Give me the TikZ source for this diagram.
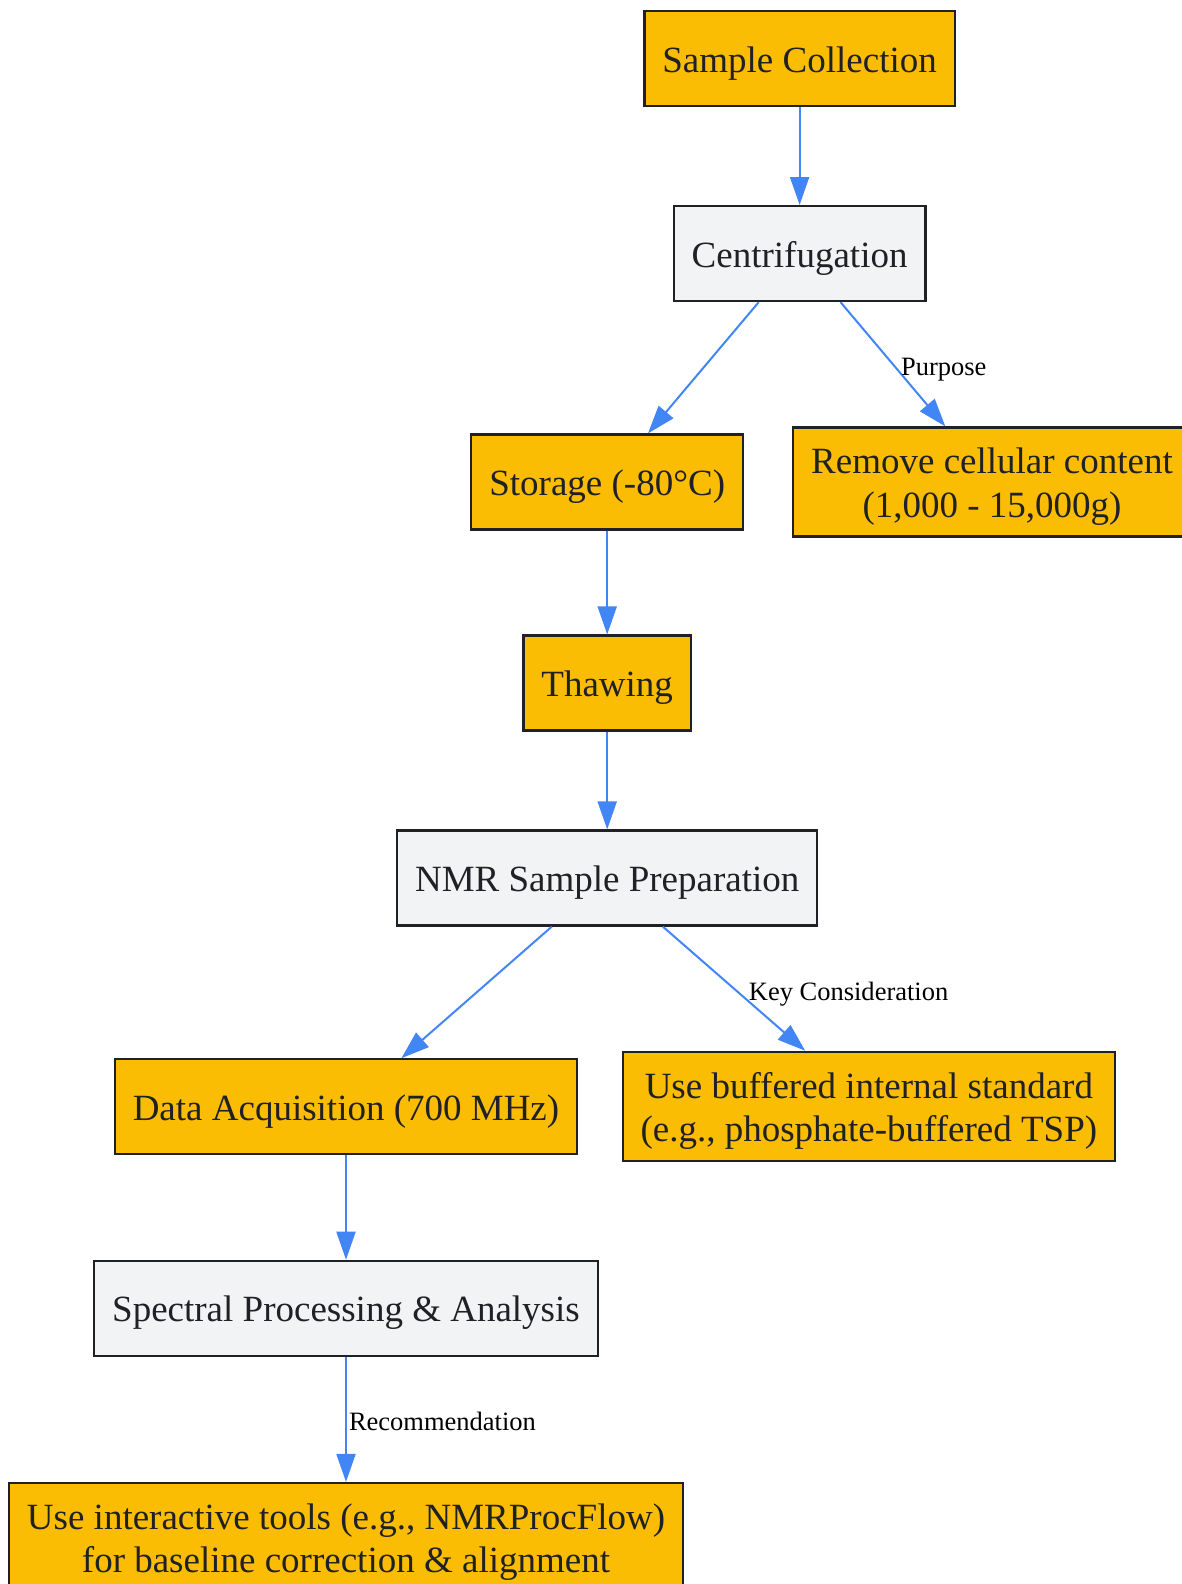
\documentclass[tikz,border=0pt]{standalone}
\usepackage{fontspec}
\setmainfont{Liberation Serif}
\usepackage{tikz}
\usetikzlibrary{arrows.meta}
\definecolor{boxorange}{HTML}{FBBC04}
\definecolor{boxgray}{HTML}{F1F3F4}
\definecolor{edgeblue}{HTML}{4285F4}
\definecolor{inkdark}{HTML}{202124}
\newcommand{\tallrow}{\rule{0pt}{35pt}}
\tikzset{
  stepbox/.style={draw=inkdark, line width=2.2pt, text=inkdark, minimum height=95pt,
    inner xsep=18pt, inner ysep=11.25pt, align=center, font=\fontsize{37}{43.5}\selectfont,
    execute at begin node={\tallrow}},
  hot/.style={stepbox, fill=boxorange},
  cold/.style={stepbox, fill=boxgray},
  flow/.style={draw=edgeblue, line width=2pt, -{Triangle[length=28pt,width=19pt]}},
  lbl/.style={font=\fontsize{26.5}{30}\selectfont, text=black, anchor=west, inner sep=2pt},
}

\begin{document}
\begin{tikzpicture}[x=1pt,y=-1pt]
		\useasboundingbox (0,0) rectangle (1182,1584);
		\def\colA{346}
		\def\colB{607.2}
		\def\colC{799.6}
		\node[hot]  (sample)   at (\colC,58.6)   {Sample Collection};
		\node[cold] (centri)   at (\colC,253.6)  {Centrifugation};
		\node[hot]  (storage)  at (\colB,482)    {Storage (-80°C)};
		\node[hot]  (remove)   at (992,482)      {\tallrow Remove cellular content\\(1,000 - 15,000g)};
		\node[hot]  (thaw)     at (\colB,683)    {Thawing};
		\node[cold] (nmrprep)  at (\colB,878)    {NMR Sample Preparation};
		\node[hot]  (acquire)  at (\colA,1106.8) {Data Acquisition (700 MHz)};
		\node[hot]  (buffer)   at (868.9,1106.3) {\tallrow Use buffered internal standard\\(e.g., phosphate-buffered TSP)};
		\node[cold] (spectral) at (\colA,1308.3) {Spectral Processing \& Analysis};
		\node[hot]  (tools)    at (\colA,1537.5) {\tallrow Use interactive tools (e.g., NMRProcFlow)\\for baseline correction \& alignment};
		% collegamenti
		\draw[flow] (sample) -- (centri);
		\draw[flow] (centri) -- (storage);
		\draw[flow] (centri) -- node[lbl, pos=0.52, xshift=3pt, yshift=-3pt] {Purpose} (remove);
		\draw[flow] (storage) -- (thaw);
		\draw[flow] (thaw) -- (nmrprep);
		\draw[flow] (nmrprep) -- (acquire);
		\draw[flow] (nmrprep) -- node[lbl, pos=0.52, xshift=9pt, yshift=-3pt] {Key Consideration} (buffer);
		\draw[flow] (acquire) -- (spectral);
		\draw[flow] (spectral) -- node[lbl, pos=0.5, yshift=-2pt] {Recommendation} (tools);
	\end{tikzpicture}
\end{document}
